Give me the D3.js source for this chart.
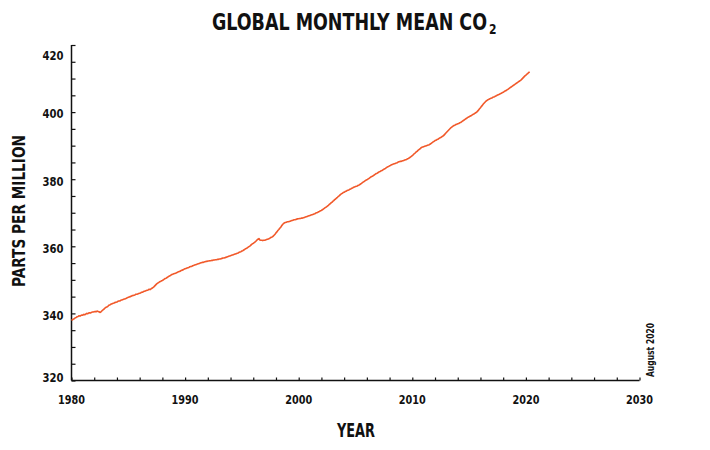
<!DOCTYPE html>
<html>
<head>
<meta charset="utf-8">
<script src="https://cdn.jsdelivr.net/npm/d3@7"></script>
<style>
  html, body { margin: 0; padding: 0; background: #ffffff; }
  svg { display: block; }
  text { font-family: "DejaVu Sans Condensed", "Liberation Sans", sans-serif; font-weight: bold; fill: #111; }
</style>
</head>
<body>
<script>
// ---- Data (global monthly mean CO2, ppm), Jan 1980 .. May 2020 ----
const startYear = 1980;
const co2 = [
  337.9, 338.1, 338.3, 338.4, 338.7, 338.8, 339.0, 339.1, 339.3, 339.2, 339.4, 339.5,
  339.5, 339.7, 339.6, 339.8, 340.0, 339.9, 340.1, 340.2, 340.1, 340.3, 340.4, 340.4,
  340.5, 340.6, 340.5, 340.7, 340.6, 340.5, 340.3, 340.4, 340.7, 341.0, 341.2, 341.5,
  341.7, 341.9, 342.0, 342.3, 342.5, 342.6, 342.8, 342.9, 343.0, 343.1, 343.3, 343.3,
  343.4, 343.6, 343.7, 343.7, 343.9, 344.0, 344.1, 344.2, 344.3, 344.4, 344.5, 344.7,
  344.8, 344.9, 345.0, 345.1, 345.3, 345.3, 345.4, 345.5, 345.7, 345.7, 345.8, 345.9,
  346.0, 346.1, 346.3, 346.3, 346.5, 346.6, 346.7, 346.8, 346.9, 347.0, 347.2, 347.1,
  347.3, 347.5, 347.7, 347.9, 348.2, 348.5, 348.8, 349.0, 349.2, 349.4, 349.5, 349.7,
  349.8, 350.0, 350.2, 350.4, 350.5, 350.7, 350.9, 351.1, 351.2, 351.4, 351.6, 351.7,
  351.8, 351.9, 352.0, 352.1, 352.3, 352.4, 352.5, 352.6, 352.8, 352.9, 353.0, 353.2,
  353.3, 353.4, 353.5, 353.6, 353.7, 353.9, 354.0, 354.0, 354.2, 354.3, 354.4, 354.5,
  354.6, 354.7, 354.8, 354.9, 355.0, 355.1, 355.2, 355.2, 355.3, 355.4, 355.5, 355.5,
  355.6, 355.6, 355.7, 355.7, 355.8, 355.8, 355.9, 355.9, 356.0, 356.0, 356.1, 356.1,
  356.2, 356.2, 356.3, 356.4, 356.5, 356.5, 356.6, 356.7, 356.8, 356.9, 357.0, 357.1,
  357.2, 357.3, 357.4, 357.5, 357.6, 357.7, 357.8, 357.9, 358.0, 358.2, 358.3, 358.4,
  358.6, 358.7, 358.9, 359.1, 359.3, 359.4, 359.6, 359.8, 360.0, 360.2, 360.5, 360.7,
  360.9, 361.1, 361.3, 361.6, 361.9, 362.1, 362.3, 361.9, 361.8, 361.8, 361.7, 361.8,
  361.8, 361.9, 362.0, 362.1, 362.2, 362.3, 362.5, 362.7, 362.8, 363.0, 363.3, 363.6,
  364.0, 364.3, 364.7, 365.0, 365.4, 365.7, 366.1, 366.5, 366.8, 367.0, 367.1, 367.2,
  367.3, 367.3, 367.4, 367.5, 367.6, 367.7, 367.8, 367.9, 367.9, 368.0, 368.1, 368.2,
  368.2, 368.3, 368.3, 368.4, 368.4, 368.5, 368.6, 368.7, 368.8, 368.9, 369.0, 369.1,
  369.2, 369.3, 369.4, 369.5, 369.6, 369.7, 369.9, 370.0, 370.1, 370.3, 370.4, 370.6,
  370.7, 370.9, 371.1, 371.3, 371.5, 371.7, 371.9, 372.1, 372.4, 372.6, 372.9, 373.1,
  373.4, 373.6, 373.9, 374.1, 374.4, 374.6, 374.9, 375.1, 375.4, 375.6, 375.8, 376.0,
  376.1, 376.3, 376.4, 376.6, 376.7, 376.8, 377.0, 377.1, 377.3, 377.4, 377.6, 377.7,
  377.8, 377.9, 378.0, 378.2, 378.3, 378.5, 378.7, 378.9, 379.1, 379.3, 379.5, 379.7,
  379.8, 380.0, 380.2, 380.4, 380.6, 380.8, 380.9, 381.1, 381.3, 381.5, 381.7, 381.8,
  382.0, 382.2, 382.3, 382.5, 382.6, 382.8, 383.0, 383.1, 383.3, 383.5, 383.7, 383.8,
  384.0, 384.1, 384.3, 384.4, 384.5, 384.6, 384.7, 384.8, 384.9, 385.1, 385.2, 385.3,
  385.3, 385.4, 385.5, 385.6, 385.7, 385.8, 385.9, 386.1, 386.2, 386.4, 386.6, 386.8,
  387.0, 387.3, 387.6, 387.8, 388.1, 388.3, 388.6, 388.8, 389.0, 389.3, 389.5, 389.6,
  389.7, 389.8, 389.9, 390.0, 390.1, 390.2, 390.3, 390.5, 390.7, 390.9, 391.1, 391.3,
  391.5, 391.6, 391.8, 391.9, 392.1, 392.3, 392.4, 392.6, 392.8, 393.0, 393.3, 393.6,
  393.9, 394.2, 394.5, 394.8, 395.1, 395.4, 395.6, 395.8, 396.0, 396.1, 396.3, 396.4,
  396.5, 396.6, 396.8, 396.9, 397.1, 397.3, 397.5, 397.7, 397.9, 398.1, 398.3, 398.5,
  398.6, 398.8, 398.9, 399.1, 399.3, 399.4, 399.6, 399.8, 400.0, 400.3, 400.6, 401.0,
  401.3, 401.7, 402.0, 402.4, 402.7, 403.0, 403.3, 403.5, 403.7, 403.8, 404.0, 404.1,
  404.2, 404.4, 404.5, 404.6, 404.8, 404.9, 405.1, 405.2, 405.3, 405.5, 405.6, 405.8,
  405.9, 406.1, 406.3, 406.4, 406.6, 406.8, 407.0, 407.2, 407.4, 407.6, 407.8, 408.0,
  408.2, 408.4, 408.6, 408.8, 409.0, 409.2, 409.4, 409.6, 409.9, 410.2, 410.5, 410.8,
  411.0, 411.3, 411.5, 411.8, 412.0
];
const xTickLabels = [1980, 1990, 2000, 2010, 2020, 2030];
const yTickLabels = [320, 340, 360, 380, 400, 420];
const xDomain = [1980, 2030];
const yDomain = [320, 420];
const titleText = "GLOBAL MONTHLY MEAN CO";
const titleSub = "2";
const xTitle = "YEAR";
const yTitle = "PARTS PER MILLION";
const noteText = "August 2020";

// ---- Layout ----
const W = 710, H = 450;
const plotLeft = 71.5, plotRight = 639.5, plotTop = 45, plotBottom = 380.5;

const svg = d3.select("body").append("svg").attr("width", W).attr("height", H);

const x = d3.scaleLinear().domain(xDomain).range([plotLeft, plotRight]);
const y = d3.scaleLinear().domain(yDomain).range([plotBottom, plotTop]);

// Title (one text element, subscript as tspan), stretched vertically
const title = svg.append("text")
  .attr("transform", "translate(212,29.5) scale(1,1.18)")
  .attr("text-anchor", "start").style("font-size", "19.5px");
title.append("tspan")
  .attr("textLength", 275).attr("lengthAdjust", "spacingAndGlyphs")
  .text(titleText);
title.append("tspan")
  .attr("dx", 2).attr("dy", 3.4).style("font-size", "12px")
  .text(titleSub);

// Y axis
const yAxisMinor = d3.axisRight(y).tickValues(d3.range(320, 421, 5)).tickSize(4).tickFormat("");
const gy = svg.append("g").attr("transform", `translate(${plotLeft},0)`).call(yAxisMinor);
gy.select(".domain").attr("stroke", "#111").attr("stroke-width", 1.5).attr("d", `M0,${plotTop}V${plotBottom}`);
gy.selectAll(".tick line").attr("stroke", "#111").attr("stroke-width", 1.2);

const yLabOffset = { 420: 9, 320: -4.5 };
svg.append("g").selectAll("text").data(yTickLabels).join("text")
  .attr("x", plotLeft - 8)
  .attr("y", d => y(d) + 2 + (yLabOffset[d] || 0))
  .attr("dy", "0.35em")
  .attr("text-anchor", "end")
  .style("font-size", "12.5px")
  .attr("textLength", 21).attr("lengthAdjust", "spacingAndGlyphs")
  .text(d => d);

// X axis
const xAxisMinor = d3.axisTop(x).tickValues(d3.range(1980, 2031, 2)).tickSize(3).tickFormat("");
const gx = svg.append("g").attr("transform", `translate(0,${plotBottom})`).call(xAxisMinor);
gx.select(".domain").attr("stroke", "#111").attr("stroke-width", 1.5).attr("d", `M${plotLeft},0H${plotRight}`);
gx.selectAll(".tick line").attr("stroke", "#111").attr("stroke-width", 1.2);

svg.append("g").selectAll("text").data(xTickLabels).join("text")
  .attr("x", d => x(d) - 13.5)
  .attr("y", 403.5)
  .attr("text-anchor", "start")
  .style("font-size", "12.5px")
  .attr("textLength", 27).attr("lengthAdjust", "spacingAndGlyphs")
  .text(d => d);

// Axis titles
svg.append("text").attr("x", 337).attr("y", 437)
  .attr("text-anchor", "start").style("font-size", "19px")
  .attr("textLength", 38).attr("lengthAdjust", "spacingAndGlyphs")
  .text(xTitle);
svg.append("text")
  .attr("transform", "translate(25,287) rotate(-90)")
  .attr("text-anchor", "start").style("font-size", "18px")
  .attr("textLength", 152).attr("lengthAdjust", "spacingAndGlyphs")
  .text(yTitle);

// Note
svg.append("text")
  .attr("transform", "translate(653.5,377) rotate(-90)")
  .attr("text-anchor", "start").style("font-size", "10px")
  .attr("textLength", 54).attr("lengthAdjust", "spacingAndGlyphs")
  .text(noteText);

// Line
const line = d3.line()
  .x((d, i) => x(startYear + i / 12))
  .y(d => y(d));
svg.append("path").datum(co2)
  .attr("fill", "none")
  .attr("stroke", "#f1592a")
  .attr("stroke-width", 1.6)
  .attr("stroke-linejoin", "round")
  .attr("d", line);
</script>
</body>
</html>
